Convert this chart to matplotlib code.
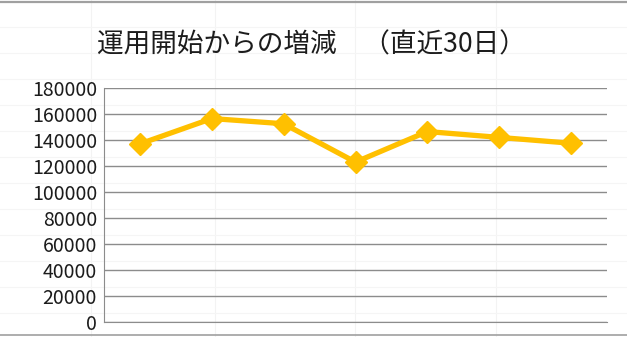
import numpy as np
import matplotlib.pyplot as plt
from matplotlib.lines import Line2D

plt.rcParams['font.family'] = ['Noto Sans CJK JP', 'DejaVu Sans']

# data
days = ['1', '2', '3', '4', '5', '6', '7']
values = [137000, 156500, 152500, 123000, 146500, 142000, 137500]
yticks = [0, 20000, 40000, 60000, 80000, 100000, 120000, 140000, 160000, 180000]
title = '運用開始からの増減　（直近30日）'

fig = plt.figure(figsize=(6.27, 3.37), dpi=100)

# faint spreadsheet cells behind the chart
for xp in [91, 215, 355, 496]:
    fig.add_artist(Line2D([xp/627, xp/627], [0, 1], color='#f3f3f3', lw=0.8, zorder=0))
for yp in np.arange(27, 337, 26):
    fig.add_artist(Line2D([0, 1], [1 - yp/337, 1 - yp/337], color='#f5f5f5', lw=0.8, zorder=0))
fig.add_artist(Line2D([0, 1], [1 - 2/337, 1 - 2/337], color='#a0a0a0', lw=1.6))
fig.add_artist(Line2D([0, 1], [1 - 335/337, 1 - 335/337], color='#a0a0a0', lw=1.2))

ax = fig.add_axes([104/627, 1 - 322/337, (607 - 104)/627, (322 - 88)/337])
ax.patch.set_alpha(0)

x = np.arange(len(values))
ax.plot(x, values, color='#FFC000', lw=3.8, marker='D', markersize=11,
        solid_joinstyle='round', zorder=3)

ax.set_xlim(-0.5, len(values) - 0.5)
ax.set_ylim(0, 180000)
ax.set_yticks(yticks)
ax.set_yticklabels([str(v) for v in yticks], fontsize=14, color='#1c1c1c')
ax.set_xticks([])
ax.tick_params(axis='y', length=0, pad=5)
ax.grid(axis='y', color='#8c8c8c', lw=1.0)
ax.set_axisbelow(True)
for s in ['top', 'right']:
    ax.spines[s].set_visible(False)
ax.spines['left'].set_color('#8c8c8c')
ax.spines['bottom'].set_color('#8c8c8c')

fig.text(311/627, 1 - 45/337, title, fontsize=19.2, color='#1c1c1c',
         ha='center', va='center')

fig.savefig('out.png', dpi=100)
